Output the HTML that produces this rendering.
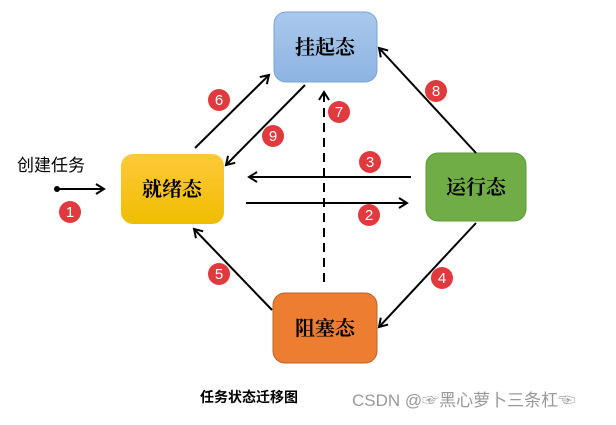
<!DOCTYPE html>
<html><head><meta charset="utf-8"><style>
body{margin:0;background:#fff;width:616px;height:420px;overflow:hidden}
</style></head><body>
<svg width="616" height="420" xmlns="http://www.w3.org/2000/svg">
<defs>
<linearGradient id="gb" x1="0" y1="0" x2="0" y2="1"><stop offset="0" stop-color="#aac8ec"/><stop offset="1" stop-color="#8db4e2"/></linearGradient>
<linearGradient id="gy" x1="0" y1="0" x2="0" y2="1"><stop offset="0" stop-color="#ffc93a"/><stop offset="1" stop-color="#efbd00"/></linearGradient>
<marker id="ar" markerWidth="12" markerHeight="12" refX="10" refY="6" orient="auto" markerUnits="userSpaceOnUse"><path d="M2,1 L10,6 L2,11" fill="none" stroke="#000" stroke-width="2"/></marker>
</defs>
<rect x="274" y="12" width="103" height="70" rx="12" fill="url(#gb)" stroke="#7ba3d6"/>
<rect x="121" y="154" width="103" height="70" rx="12" fill="url(#gy)"/>
<rect x="426" y="153" width="100" height="68" rx="12" fill="#70ad47" stroke="#5f9a3a"/>
<rect x="273" y="293" width="104" height="70" rx="12" fill="#ed7d31" stroke="#b9642a"/>
<g font-size="20" font-weight="bold" text-anchor="middle" style="font-family:'Noto Serif CJK SC','WenQuanYi Zen Hei',serif" fill="#000">
<text x="325" y="54">挂起态</text>
<text x="172" y="196">就绪态</text>
<text x="476" y="194">运行态</text>
<text x="325" y="335">阻塞态</text>
</g>
<g stroke="#000" stroke-width="2" fill="none">
<line x1="195" y1="148" x2="269" y2="75" marker-end="url(#ar)"/>
<line x1="305" y1="85" x2="226" y2="165" marker-end="url(#ar)"/>
<line x1="324" y1="282" x2="324" y2="92" stroke-dasharray="9,6" marker-end="url(#ar)"/>
<line x1="476" y1="153" x2="379" y2="48" marker-end="url(#ar)"/>
<line x1="411" y1="177" x2="249" y2="177" marker-end="url(#ar)"/>
<line x1="246" y1="203" x2="407" y2="203" marker-end="url(#ar)"/>
<line x1="476" y1="223" x2="379" y2="327" marker-end="url(#ar)"/>
<line x1="272" y1="310" x2="194" y2="229" marker-end="url(#ar)"/>
<line x1="57" y1="189" x2="104" y2="189" marker-end="url(#ar)"/>
</g>
<circle cx="57" cy="189" r="3" fill="#000"/>
<text x="17" y="171" font-size="17" style="font-family:'Noto Sans CJK SC',sans-serif">创建任务</text>
<g fill="#e0393e">
<circle cx="219" cy="100" r="11"/><circle cx="273" cy="136" r="11"/><circle cx="339" cy="112" r="11"/><circle cx="436" cy="91" r="11"/><circle cx="370" cy="162" r="11"/><circle cx="369" cy="215" r="11"/><circle cx="70" cy="212" r="11"/><circle cx="219" cy="274" r="11"/><circle cx="442" cy="278" r="11"/>
</g>
<g fill="#fff" font-size="15" text-anchor="middle" style="font-family:'Liberation Sans',sans-serif">
<text x="219" y="105">6</text><text x="273" y="141">9</text><text x="339" y="117">7</text><text x="436" y="96">8</text><text x="370" y="167">3</text><text x="369" y="220">2</text><text x="70" y="217">1</text><text x="219" y="279">5</text><text x="442" y="283">4</text>
</g>
<text x="200" y="402" font-size="14" font-weight="bold" style="font-family:'Noto Sans CJK SC',sans-serif">任务状态迁移图</text>
<text x="352" y="406" font-size="17" fill="#999" style="font-family:'Liberation Sans','Noto Sans CJK SC',sans-serif">CSDN @☞黑心萝卜三条杠☜</text>
</svg>
</body></html>
